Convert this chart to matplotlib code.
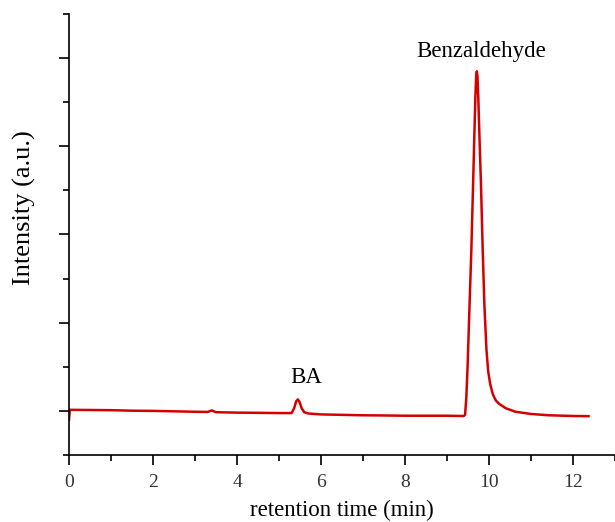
import matplotlib.pyplot as plt
from matplotlib.ticker import MultipleLocator, NullFormatter

# chromatogram trace, retention time (min) vs intensity (a.u.)
time_min = [0.0, 0.02, 0.5, 1.0, 1.5, 2.0, 2.5, 3.0, 3.3, 3.4, 3.5, 4.0, 4.5,
            5.0, 5.3, 5.36, 5.41, 5.45, 5.49, 5.54, 5.6, 5.7, 6.0, 6.5, 7.0,
            7.5, 8.0, 8.5, 9.0, 9.40, 9.43, 9.46, 9.49, 9.53, 9.58, 9.62,
            9.65, 9.675, 9.695, 9.71, 9.725, 9.745, 9.77, 9.81, 9.85, 9.89,
            9.94, 9.98, 10.03, 10.09, 10.16, 10.24, 10.4, 10.63, 11.0, 11.43,
            12.0, 12.37]
intensity = [-0.1, 0.012, 0.01, 0.008, 0.002, 0.0, -0.005, -0.01, -0.012,
             0.005, -0.015, -0.02, -0.022, -0.025, -0.025, 0.03, 0.11, 0.13,
             0.1, 0.03, -0.015, -0.03, -0.04, -0.045, -0.05, -0.052, -0.055,
             -0.055, -0.055, -0.058, -0.045, 0.15, 0.5, 1.1, 1.83, 2.55, 3.1,
             3.55, 3.8, 3.85, 3.8, 3.55, 3.15, 2.55, 1.83, 1.2, 0.69, 0.45,
             0.3, 0.19, 0.12, 0.08, 0.03, -0.01, -0.035, -0.05, -0.058, -0.06]

peak_names = ["BA", "Benzaldehyde"]
label_x = [5.65, 9.81]
label_y = [0.375, 4.07]

plt.rcParams["font.family"] = ["Liberation Serif", "DejaVu Serif"]

fig = plt.figure(figsize=(6.15, 5.22), dpi=100)
ax = fig.add_axes([0.1122, 0.1284, 0.8878, 0.8448])

ax.plot(time_min, intensity, color="#d40000", lw=1.8, solid_joinstyle="round")

for name, x, y in zip(peak_names, label_x, label_y):
    ax.text(x, y, name, ha="center", va="center", fontsize=16.5)

ax.set_xlim(0, 13)
ax.set_ylim(-0.5, 4.5)
ax.xaxis.set_major_locator(MultipleLocator(2))
ax.xaxis.set_minor_locator(MultipleLocator(1))
ax.yaxis.set_major_locator(MultipleLocator(1))
ax.yaxis.set_minor_locator(MultipleLocator(0.5))
ax.yaxis.set_major_formatter(NullFormatter())

for side in ["top", "right"]:
    ax.spines[side].set_visible(False)
for side in ["left", "bottom"]:
    ax.spines[side].set_linewidth(1.2)

ax.tick_params(which="major", direction="out", length=7, width=1.2,
               labelsize=14, pad=7)
ax.tick_params(axis="x", which="major", labelcolor="#333333")
ax.tick_params(which="minor", direction="out", length=4, width=1.2)

ax.set_xlabel("retention time (min)", fontsize=16.5, labelpad=6)
ax.set_ylabel("Intensity (a.u.)", fontsize=19)
ax.yaxis.set_label_coords(-0.06, 0.56)

fig.savefig("out.png", dpi=100)
